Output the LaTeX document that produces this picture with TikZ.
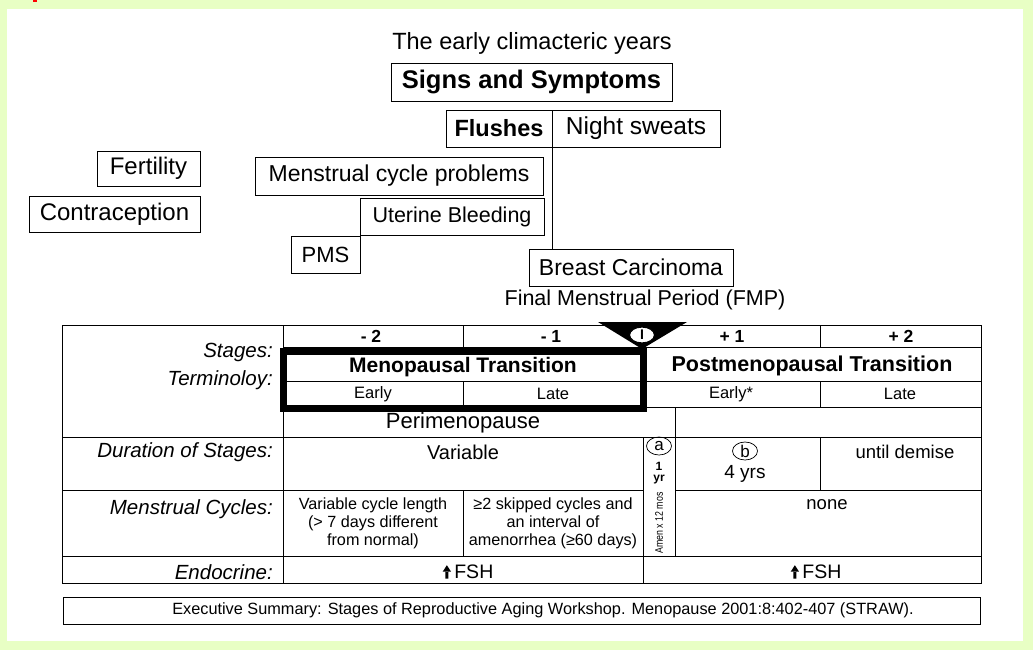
\documentclass[tikz,border=0pt]{standalone}
\usepackage{fontspec}
\usepackage{graphicx}
\usetikzlibrary{shapes.geometric}
\setmainfont{Liberation Sans}
\definecolor{bggreen}{HTML}{E8FFC4}
\newcommand{\fs}[1]{\fontsize{#1}{#1}\selectfont}
\newcommand{\uparr}{\tikz[x=1pt,y=1pt,baseline=0pt]{\fill (-1.6,0) rectangle (1.6,7.5) (-4.2,7) -- (4.2,7) -- (0,13.5) -- cycle;}}
\begin{document}
\begin{tikzpicture}[x=1pt,y=-1pt,
  box/.style={draw, line width=0.9pt, inner sep=0pt, font=\fs{23}},
  lbl/.style={font=\fs{20.5}\itshape, anchor=east, inner sep=0pt},
  cell/.style={font=\fs{16.5}, inner sep=0pt},
  stg/.style={font=\fs{17.5}\bfseries, inner sep=0pt},
  small/.style={font=\fontsize{16.2}{18}\selectfont, align=center, inner sep=0pt},
  tl/.style={line width=0.9pt},
  circ/.style={draw, ellipse, line width=0.7pt, minimum width=25pt, minimum height=18pt, inner sep=0pt, font=\fs{17}}
]
\useasboundingbox (0,0) rectangle (1033,650);
\fill[bggreen] (0,0) rectangle (1033,650);
\fill[white] (7,9) rectangle (1023,641);
\fill[red] (33,0) rectangle (37,2);

% top part
\node[font=\fs{23.5}, inner sep=0pt] (title) at (532,43) {The early climacteric years};
\node[box, font=\fs{25.5}\bfseries, minimum width=281pt, minimum height=38pt] (sas) at (531.5,82) {Signs and Symptoms};
\node[box, font=\fs{23.5}\bfseries, minimum width=106pt, minimum height=37pt] (flush) at (499,128.5) {Flushes};
\node[box, font=\fs{24.5}, minimum width=168pt, minimum height=37pt] (night) at (636,128.5) {Night sweats};
\node[box, minimum width=288pt, minimum height=38pt] (menstr) at (399,176) {Menstrual cycle problems};
\node[box, font=\fs{21.5}, minimum width=184pt, minimum height=37pt] (uter) at (452,216.5) {Uterine Bleeding};
\node[box, font=\fs{22}, minimum width=69pt, minimum height=37pt] (pms) at (325.5,254.5) {PMS};
\node[box, minimum width=204pt, minimum height=37pt] (breast) at (631,267.5) {Breast Carcinoma};
\node[box, font=\fs{24}, minimum width=103pt, minimum height=35pt] (fert) at (148.5,168.5) {Fertility};
\node[box, font=\fs{24}, minimum width=171pt, minimum height=36pt] (contra) at (114.5,214) {Contraception};
\draw[line width=0.9pt] (flush.south east) -- (flush.south east |- breast.north);
\node[font=\fs{21.5}, inner sep=0pt] (fmp) at (645,300) {Final Menstrual Period (FMP)};

% table grid
\draw[tl] (62,325) rectangle (981,583);
\draw[tl] (283,325) -- (283,583);
\draw[tl] (283,347) -- (981,347);
\draw[tl] (283,381) -- (981,381);
\draw[tl] (283,407) -- (981,407);
\draw[tl] (62,437) -- (981,437);
\draw[tl] (62,490) -- (643,490) (675,490) -- (981,490);
\draw[tl] (62,556) -- (981,556);
\draw[tl] (463,325) -- (463,347) (463,381) -- (463,407) (463,490) -- (463,556);
\draw[tl] (643,325) -- (643,407) (643,437) -- (643,583);
\draw[tl] (675,407) -- (675,556);
\draw[tl] (820,325) -- (820,347) (820,381) -- (820,407) (820,437) -- (820,490);

% thick box
\draw[line width=7pt] (283,351) rectangle (643,408);

% FMP marker
\fill (598,322) -- (687,322) -- (642,349) -- cycle;
\node[draw, ellipse, fill=white, line width=1.2pt, minimum width=25pt, minimum height=16pt, inner sep=0pt, font=\fs{14}\bfseries] (mark) at (642,335) {I};

% labels
\node[lbl] (l1) at (273,352) {Stages:};
\node[lbl] (l2) at (273,380) {Terminoloy:};
\node[lbl] (l3) at (273,452) {Duration of Stages:};
\node[lbl] (l4) at (273,509) {Menstrual Cycles:};
\node[lbl] (l5) at (273,572) {Endocrine:};

% stages
\node[stg] (s1) at (371,336) {- 2};
\node[stg] (s2) at (551,336) {- 1};
\node[stg] (s3) at (732,336) {+ 1};
\node[stg] (s4) at (901,336) {+ 2};
\node[font=\fs{21}\bfseries, inner sep=0pt] (mt) at (463,367) {Menopausal Transition};
\node[font=\fs{21.5}\bfseries, inner sep=0pt] (pt) at (812,366) {Postmenopausal Transition};
\node[cell] (e1) at (373,394) {Early};
\node[cell] (e2) at (553,394) {Late};
\node[cell] (e3) at (731,394) {Early*};
\node[cell] (e4) at (900,394) {Late};
\node[font=\fs{22}, inner sep=0pt] (peri) at (463,423) {Perimenopause};

% duration
\node[font=\fs{20}, inner sep=0pt] (var) at (463,452) {Variable};
\node[circ] (ca) at (659,446) {a};
\node[font=\fs{12}\bfseries, inner sep=0pt] (one) at (659,466) {1};
\node[font=\fs{12}\bfseries, inner sep=0pt] (yr) at (659,480) {yr};
\node[font=\fs{11}, rotate=90, inner sep=0pt] (amen) at (659,523) {\scalebox{0.8}[1]{Amen x 12 mos}};
\node[circ] (cb) at (745,451) {b};
\node[font=\fs{19}, inner sep=0pt] (four) at (745,474) {4 yrs};
\node[font=\fs{18.5}, inner sep=0pt] (demise) at (905,452) {until demise};

% menstrual cycles
\node[small] (mc1) at (373,523) {Variable cycle length\\(> 7 days different\\from normal)};
\node[small] (mc2) at (553,523) {≥2 skipped cycles and\\an interval of\\amenorrhea (≥60 days)};
\node[font=\fs{18.5}, inner sep=0pt] (none) at (827,505) {none};

% endocrine
\node[font=\fs{19.5}, inner sep=0pt] (fsh1) at (468,572) {\uparr\,FSH};
\node[font=\fs{19.5}, inner sep=0pt] (fsh2) at (816,572) {\uparr\,FSH};

% reference
\draw[tl] (63,597) rectangle (980,624);
\node[font=\fs{16.3}, inner sep=0pt] (ref) at (543,610) {Executive Summary: Stages of Reproductive Aging Workshop. Menopause 2001:8:402-407 (STRAW).};
\end{tikzpicture}
\end{document}
